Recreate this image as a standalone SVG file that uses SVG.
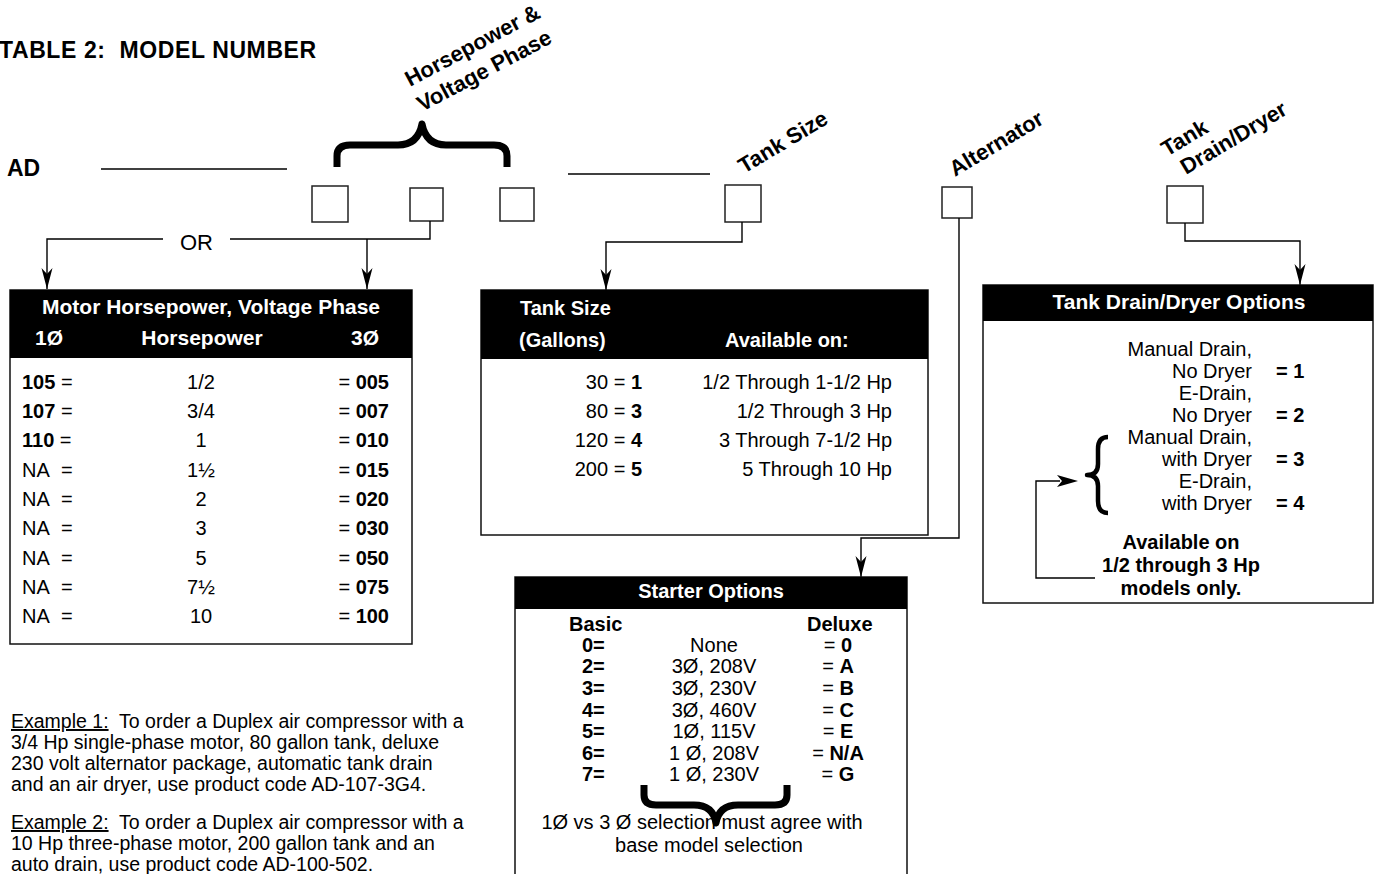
<svg xmlns="http://www.w3.org/2000/svg" width="1377" height="874" viewBox="0 0 1377 874">
<style>
text{font-family:'Liberation Sans',Arial,Helvetica,sans-serif;fill:#000}
.b{font-weight:bold}
.w{fill:#fff;font-weight:bold}
.t20{font-size:20px}
.t21{font-size:21px}
.lbl{font-size:22px;font-weight:bold}
.ex{font-size:19.5px}
.ln{stroke:#000;stroke-width:1.4;fill:none}
.bx{stroke:#222;stroke-width:1.5;fill:#fff}
.tb{stroke:#111;stroke-width:1.5;fill:#fff}
.hd{fill:#000}
.br{stroke:#000;fill:none;stroke-linejoin:round}
.m{text-anchor:middle}
.e{text-anchor:end}
</style>
<defs>
<marker id="arrv" markerUnits="userSpaceOnUse" markerWidth="22" markerHeight="12" refX="21" refY="6" orient="auto" viewBox="0 0 22 12">
<path d="M0,0.5 L21,6 L0,11.5 L6,6 Z" fill="#000"/>
</marker>
</defs>
<rect width="1377" height="874" fill="#fff"/>

<g id="title"><text x="-1" y="58" class="b" xml:space="preserve" style="font-size:23px;letter-spacing:0.6px">TABLE 2:  MODEL NUMBER</text></g>

<g id="ad-code">
<text x="7" y="176" class="b" style="font-size:23px">AD</text>
<line x1="101" y1="169" x2="287" y2="169" class="ln"/>
<line x1="568" y1="174" x2="710" y2="174" class="ln"/>
</g>

<g id="hp-boxes">
<rect x="312" y="186" width="36" height="36" class="bx"/>
<rect x="410" y="188" width="33" height="33" class="bx"/>
<rect x="500" y="188" width="34" height="33" class="bx"/>
<path class="br" stroke-width="7" d="M337,167 L337,156 Q337,145 350,145 L398,145 Q418,145 422,124 Q426,145 446,145 L494,145 Q507,145 507,156 L507,167"/>
<text class="lbl" transform="translate(410,87) rotate(-28)">Horsepower &amp;</text>
<text class="lbl" transform="translate(422,112) rotate(-28)">Voltage Phase</text>
</g>

<g id="tank-box">
<rect x="725" y="185" width="36" height="37" class="bx"/>
<text class="lbl" transform="translate(744,174) rotate(-31)">Tank Size</text>
</g>

<g id="alt-box">
<rect x="942" y="187" width="30" height="31" class="bx"/>
<text class="lbl" transform="translate(955,177) rotate(-31)">Alternator</text>
</g>

<g id="drain-box">
<rect x="1167" y="186" width="36" height="37" class="bx"/>
<text class="lbl" transform="translate(1167,157) rotate(-31)">Tank</text>
<text class="lbl" transform="translate(1186,175) rotate(-31)">Drain/Dryer</text>
</g>

<g id="connectors">
<polyline class="ln" points="430,221 430,239 230,239"/>
<polyline class="ln" points="163,239 47,239 47,289" marker-end="url(#arrv)"/>
<line class="ln" x1="367" y1="239" x2="367" y2="289" marker-end="url(#arrv)"/>
<polyline class="ln" points="742,222 742,242 606,242 606,290" marker-end="url(#arrv)"/>
<polyline class="ln" points="1185,223 1185,241 1300,241 1300,285" marker-end="url(#arrv)"/>
<polyline class="ln" points="959,218 959,538 861,538 861,577" marker-end="url(#arrv)"/>
<text x="196.5" y="250" class="m" style="font-size:22px">OR</text>
</g>

<g id="motor-table">
<rect x="10" y="290" width="402" height="354" class="tb"/>
<rect x="10" y="290" width="402" height="68" class="hd"/>
<text x="211" y="314" class="w t21 m">Motor Horsepower, Voltage Phase</text>
<text x="35" y="345" class="w t21">1Ø</text>
<text x="202" y="345" class="w t21 m">Horsepower</text>
<text x="351" y="345" class="w t21">3Ø</text>
<g class="t20">
<text x="22" y="389"><tspan class="b">105</tspan> =</text>
<text x="22" y="418"><tspan class="b">107</tspan> =</text>
<text x="22" y="447"><tspan class="b">110</tspan> =</text>
<text x="22" y="477">NA</text><text x="61" y="477">=</text>
<text x="22" y="506">NA</text><text x="61" y="506">=</text>
<text x="22" y="535">NA</text><text x="61" y="535">=</text>
<text x="22" y="565">NA</text><text x="61" y="565">=</text>
<text x="22" y="594">NA</text><text x="61" y="594">=</text>
<text x="22" y="623">NA</text><text x="61" y="623">=</text>
<text x="201" y="389" class="m">1/2</text>
<text x="201" y="418" class="m">3/4</text>
<text x="201" y="447" class="m">1</text>
<text x="201" y="477" class="m">1½</text>
<text x="201" y="506" class="m">2</text>
<text x="201" y="535" class="m">3</text>
<text x="201" y="565" class="m">5</text>
<text x="201" y="594" class="m">7½</text>
<text x="201" y="623" class="m">10</text>
<text x="389" y="389" class="e">= <tspan class="b">005</tspan></text>
<text x="389" y="418" class="e">= <tspan class="b">007</tspan></text>
<text x="389" y="447" class="e">= <tspan class="b">010</tspan></text>
<text x="389" y="477" class="e">= <tspan class="b">015</tspan></text>
<text x="389" y="506" class="e">= <tspan class="b">020</tspan></text>
<text x="389" y="535" class="e">= <tspan class="b">030</tspan></text>
<text x="389" y="565" class="e">= <tspan class="b">050</tspan></text>
<text x="389" y="594" class="e">= <tspan class="b">075</tspan></text>
<text x="389" y="623" class="e">= <tspan class="b">100</tspan></text>
</g>
</g>

<g id="tank-table">
<rect x="481" y="290" width="447" height="245" class="tb"/>
<rect x="481" y="290" width="447" height="69" class="hd"/>
<text x="520" y="315" class="w t20">Tank Size</text>
<text x="519" y="347" class="w t20">(Gallons)</text>
<text x="725" y="347" class="w t20">Available on:</text>
<g class="t20">
<text x="642" y="389" class="e">30 = <tspan class="b">1</tspan></text>
<text x="642" y="418" class="e">80 = <tspan class="b">3</tspan></text>
<text x="642" y="447" class="e">120 = <tspan class="b">4</tspan></text>
<text x="642" y="476" class="e">200 = <tspan class="b">5</tspan></text>
<text x="892" y="389" class="e">1/2 Through 1-1/2 Hp</text>
<text x="892" y="418" class="e">1/2 Through 3 Hp</text>
<text x="892" y="447" class="e">3 Through 7-1/2 Hp</text>
<text x="892" y="476" class="e">5 Through 10 Hp</text>
</g>
</g>

<g id="drain-table">
<rect x="983" y="285" width="390" height="318" class="tb"/>
<rect x="983" y="285" width="390" height="36" class="hd"/>
<text x="1179" y="309" class="w t21 m">Tank Drain/Dryer Options</text>
<g class="t20">
<text x="1252" y="356" class="e">Manual Drain,</text>
<text x="1252" y="378" class="e">No Dryer</text><text x="1276" y="378" class="b">= 1</text>
<text x="1252" y="400" class="e">E-Drain,</text>
<text x="1252" y="422" class="e">No Dryer</text><text x="1276" y="422" class="b">= 2</text>
<text x="1252" y="444" class="e">Manual Drain,</text>
<text x="1252" y="466" class="e">with Dryer</text><text x="1276" y="466" class="b">= 3</text>
<text x="1252" y="488" class="e">E-Drain,</text>
<text x="1252" y="510" class="e">with Dryer</text><text x="1276" y="510" class="b">= 4</text>
<text x="1181" y="549" class="b m">Available on</text>
<text x="1181" y="572" class="b m">1/2 through 3 Hp</text>
<text x="1181" y="595" class="b m">models only.</text>
</g>
<path class="br" stroke-width="4.5" d="M1108,437 Q1098,437 1098,449 L1098,464 Q1098,475 1087,475 Q1098,475 1098,486 L1098,501 Q1098,513 1108,513"/>
<polyline class="ln" points="1095,578 1036,578 1036,481 1060,481"/>
<path d="M1078,481 L1057,475 L1062,481 L1057,487 Z" fill="#000"/>
</g>

<g id="starter-table">
<path class="tb" d="M515,880 L515,577 L907,577 L907,880"/>
<rect x="515" y="577" width="392" height="32" class="hd"/>
<text x="711" y="598" class="w t20 m">Starter Options</text>
<g class="t20">
<text x="569" y="631" class="b">Basic</text>
<text x="807" y="631" class="b">Deluxe</text>
<text x="582" y="652" class="b">0=</text>
<text x="582" y="673" class="b">2=</text>
<text x="582" y="695" class="b">3=</text>
<text x="582" y="717" class="b">4=</text>
<text x="582" y="738" class="b">5=</text>
<text x="582" y="760" class="b">6=</text>
<text x="582" y="781" class="b">7=</text>
<text x="714" y="652" class="m">None</text>
<text x="714" y="673" class="m">3Ø, 208V</text>
<text x="714" y="695" class="m">3Ø, 230V</text>
<text x="714" y="717" class="m">3Ø, 460V</text>
<text x="714" y="738" class="m">1Ø, 115V</text>
<text x="714" y="760" class="m">1 Ø, 208V</text>
<text x="714" y="781" class="m">1 Ø, 230V</text>
<text x="838" y="652" class="m">= <tspan class="b">0</tspan></text>
<text x="838" y="673" class="m">= <tspan class="b">A</tspan></text>
<text x="838" y="695" class="m">= <tspan class="b">B</tspan></text>
<text x="838" y="717" class="m">= <tspan class="b">C</tspan></text>
<text x="838" y="738" class="m">= <tspan class="b">E</tspan></text>
<text x="838" y="760" class="m">= <tspan class="b">N/A</tspan></text>
<text x="838" y="781" class="m">= <tspan class="b">G</tspan></text>
<text x="702" y="829" class="m">1Ø vs 3 Ø selection must agree with</text>
<text x="709" y="852" class="m">base model selection</text>
</g>
<path class="br" stroke-width="7" d="M644,785 L644,795 Q644,805 656,805 L694,805 Q713,805 716,823 Q719,805 738,805 L775,805 Q787,805 787,795 L787,785"/>
</g>

<g id="examples" class="ex">
<text x="11" y="728" xml:space="preserve"><tspan text-decoration="underline">Example 1:</tspan>  To order a Duplex air compressor with a</text>
<text x="11" y="749">3/4 Hp single-phase motor, 80 gallon tank, deluxe</text>
<text x="11" y="770">230 volt alternator package, automatic tank drain</text>
<text x="11" y="791">and an air dryer, use product code AD-107-3G4.</text>
<text x="11" y="829" xml:space="preserve"><tspan text-decoration="underline">Example 2:</tspan>  To order a Duplex air compressor with a</text>
<text x="11" y="850">10 Hp three-phase motor, 200 gallon tank and an</text>
<text x="11" y="871">auto drain, use product code AD-100-502.</text>
</g>
</svg>
